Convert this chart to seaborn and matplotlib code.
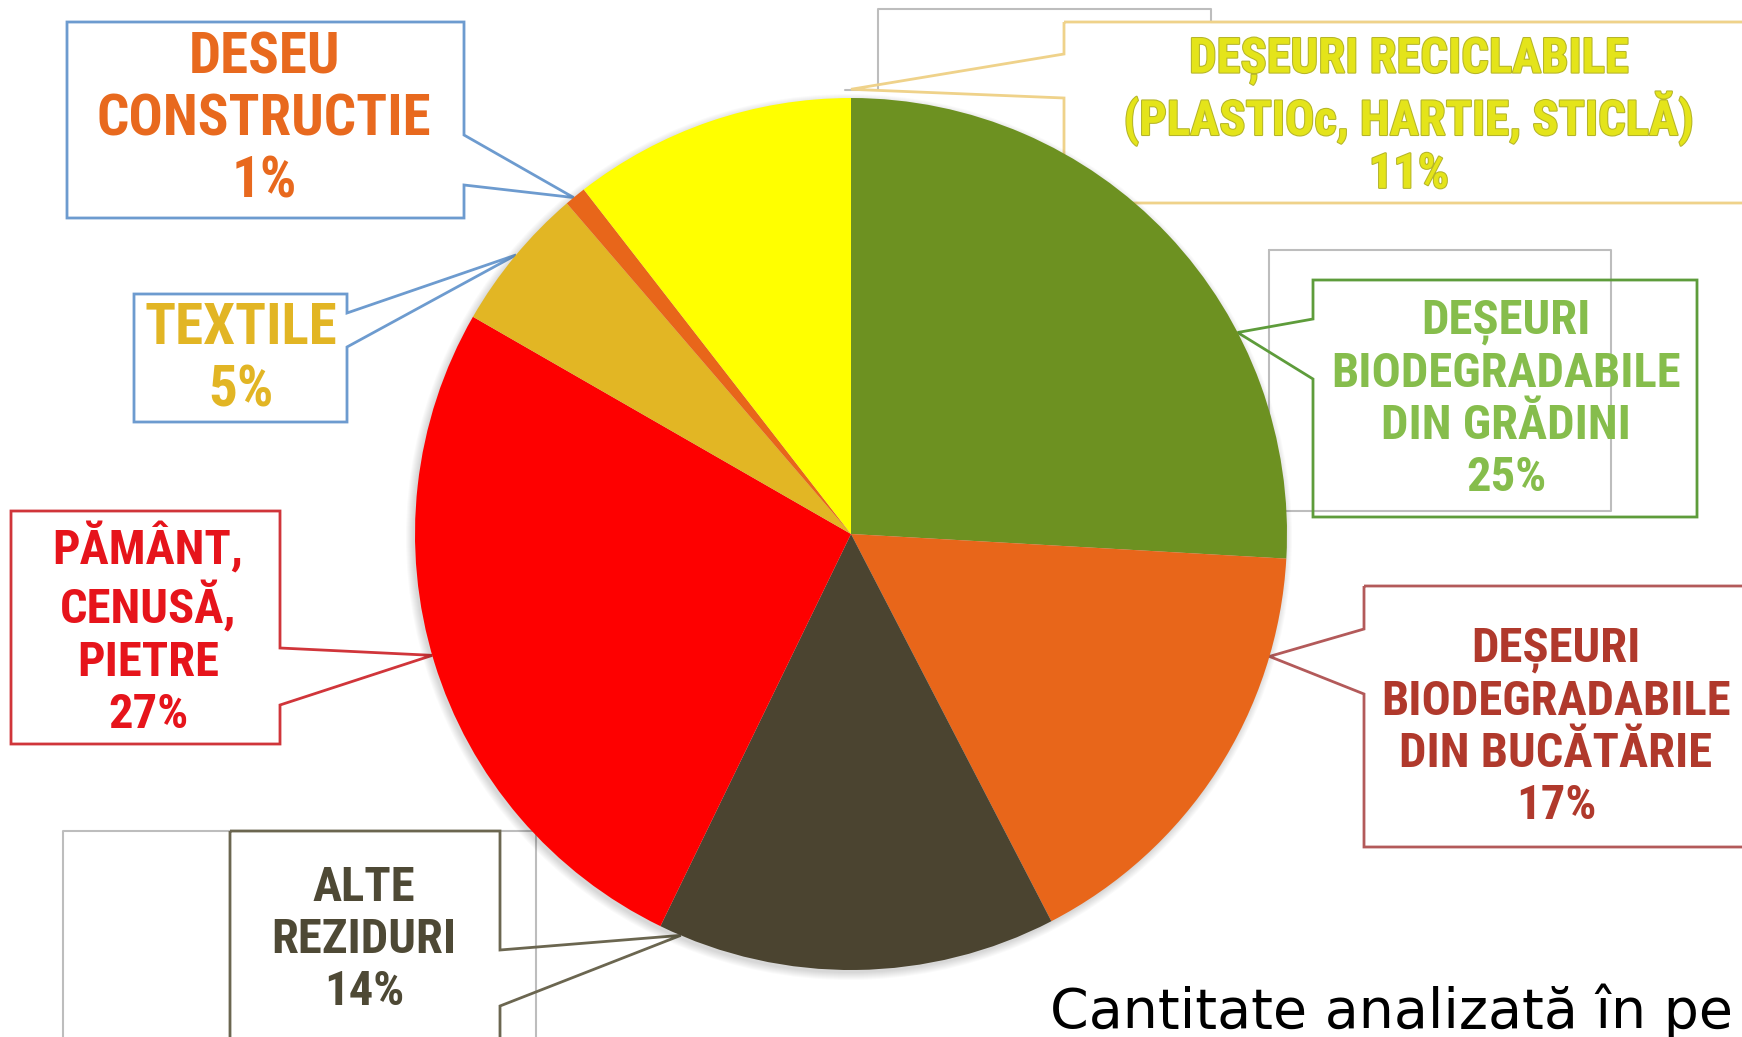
import numpy as np
import matplotlib
matplotlib.use("Agg")
import matplotlib.pyplot as plt
import seaborn as sns
from matplotlib.patches import Polygon, Circle
from matplotlib import patheffects

# Waste composition of the analysed quantity
categories = [
    "DEȘEURI\nBIODEGRADABILE\nDIN GRĂDINI",
    "DEȘEURI\nBIODEGRADABILE\nDIN BUCĂTĂRIE",
    "ALTE\nREZIDURI",
    "PĂMÂNT,\nCENUSĂ,\nPIETRE",
    "TEXTILE",
    "DESEU\nCONSTRUCTIE",
    "DEȘEURI RECICLABILE\n(PLASTIOc, HARTIE, STICLĂ)",
]
label_pct = [25, 17, 14, 27, 5, 1, 11]              # percentages printed in the callouts
slice_pct = [25.9, 16.5, 14.8, 26.1, 5.4, 0.8, 10.5]  # slice sizes as drawn in the picture
footer = "Cantitate analizată în pe"

slice_colors = ["#6d9121", "#e8661a", "#4b4430", "#fe0000", "#e2b624", "#e8661a", "#ffff00"]
text_colors = ["#86bd4c", "#b0392c", "#4e4935", "#e6141b", "#e2b524", "#e8691e", "#e4e41a"]
border_colors = ["#5e9c3b", "#b35a5a", "#6b6650", "#d0353a", "#6d9bcf", "#6d9bcf", "#efd28a"]

W, H = 1742, 1037

# callout layout in pixel coords (y down): box, notch side, notch span, tip position on wedge, text centre
callouts = [
    dict(box=(1313, 280, 1697, 517), side="left", notch=(319, 379), frac=0.67, rs=1.0, text=(1506, 400), size=35),
    dict(box=(1364, 586, 1760, 847), side="left", notch=(629, 694), frac=0.22, rs=1.0, text=(1556, 728), size=35),
    dict(box=(230, 831, 500, 1060), side="right", notch=(950, 1006), frac=0.945, rs=1.0, text=(364, 940), size=35),
    dict(box=(11, 511, 280, 744), side="right", notch=(648, 705), frac=0.51, rs=1.0, text=(148, 630), size=35),
    dict(box=(134, 294, 347, 422), side="right", notch=(313, 347), frac=0.51, rs=1.0, text=(241, 360), size=41),
    dict(box=(67, 22, 464, 218), side="right", notch=(135, 185), frac=0.41, rs=1.0, text=(264, 120), size=41),
    dict(box=(1064, 22, 1760, 203), side="left", notch=(54, 98), frac=1.0, rs=1.02, text=(1409, 118), size=35),
]


def py(y):
    return H - y


sns.set_theme(style="white")
plt.rcParams["font.family"] = ["Roboto Condensed", "Roboto", "DejaVu Sans"]

fig = plt.figure(figsize=(W / 100, H / 100), dpi=100)
ax = fig.add_axes([0, 0, 1, 1])

pie_center = (851, py(534))
pie_r = 436

wedges, _ = ax.pie(
    slice_pct,
    colors=slice_colors,
    startangle=90,
    counterclock=False,
    center=pie_center,
    radius=pie_r,
    wedgeprops=dict(linewidth=0, zorder=3),
)

# soft shadow under the pie
for k in range(8):
    ax.add_patch(Circle((pie_center[0] - 2, pie_center[1] - 3), pie_r + k,
                        color="black", alpha=0.018, lw=0, zorder=2.5))

# faint leftover outlines from the original slide
ghost = "#bdbdbd"
ax.plot([845, 878, 878, 1211, 1211, 1742], [py(90), py(90), py(9), py(9), py(22), py(22)],
        color=ghost, lw=1.5, zorder=1)
ax.plot([1269, 1611, 1611, 1269, 1269], [py(250), py(250), py(511), py(511), py(250)],
        color=ghost, lw=1.5, zorder=1)
ax.plot([63, 63, 536, 536], [py(1040), py(831), py(831), py(1040)], color=ghost, lw=1.5, zorder=1)

for i, c in enumerate(callouts):
    w = wedges[i]
    ang = np.deg2rad(w.theta2 - c["frac"] * (w.theta2 - w.theta1))
    cx, cy = w.center
    r = w.r * c["rs"]
    tip = (cx + r * np.cos(ang), cy + r * np.sin(ang))
    x0, y0, x1, y1 = c["box"]
    ya, yb = c["notch"]
    if c["side"] == "left":
        pts = [(x0, py(y0)), (x1, py(y0)), (x1, py(y1)), (x0, py(y1)),
               (x0, py(yb)), tip, (x0, py(ya))]
    else:
        pts = [(x0, py(y0)), (x1, py(y0)), (x1, py(ya)), tip,
               (x1, py(yb)), (x1, py(y1)), (x0, py(y1))]
    ax.add_patch(Polygon(pts, closed=True, fill=False, edgecolor=border_colors[i],
                         lw=2, joinstyle="miter", zorder=2))

    txt = ax.text(c["text"][0], py(c["text"][1]), f"{categories[i]}\n{label_pct[i]}%",
                  ha="center", va="center", fontsize=c["size"], fontweight="bold",
                  color=text_colors[i], linespacing=1.17, zorder=4)
    if i == 6:
        txt.set_path_effects([patheffects.withStroke(linewidth=1.5, foreground="#b5b52a")])

ax.text(1050, py(1028), footer, fontsize=40, family=["DejaVu Sans"], color="black",
        va="baseline", ha="left", zorder=4)

ax.set_xlim(0, W)
ax.set_ylim(0, H)
ax.set_aspect("equal")
ax.axis("off")

fig.savefig("out.png", dpi=100, facecolor="white")
